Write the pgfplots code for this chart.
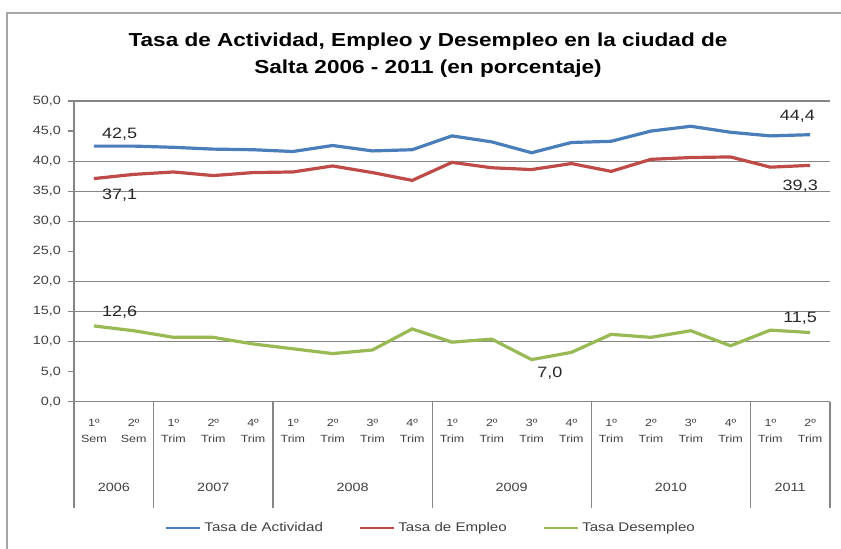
\documentclass[border=0pt]{standalone}
\usepackage{fontspec}
\setmainfont[FakeStretch=1.2]{Liberation Sans}
\usepackage{pgfplots}
\pgfplotsset{compat=1.18}
\definecolor{actblue}{HTML}{4A7EBB}
\definecolor{empred}{HTML}{BE4B48}
\definecolor{desgreen}{HTML}{98B954}
\definecolor{framegray}{HTML}{A6A6A6}
\definecolor{gridgray}{HTML}{868686}
\definecolor{labgray}{HTML}{404040}

\begin{document}
\begin{tikzpicture}
\useasboundingbox (0,0) rectangle (420.5pt,-274.5pt);
\draw[framegray, line width=1pt] (3.5pt,-280pt) -- (3.5pt,-6.4pt) -- (425pt,-6.4pt);
\node[font=\bfseries\fontsize{9.4}{11}\selectfont] at (214pt,-21pt) {Tasa de Actividad, Empleo y Desempleo en la ciudad de};
\node[font=\bfseries\fontsize{9.4}{11}\selectfont] at (214pt,-34.5pt) {Salta 2006 - 2011 (en porcentaje)};
\begin{axis}[
  at={(37pt,-200.85pt)}, anchor=south west,
  scale only axis, width=378pt, height=150.35pt,
  xmin=-0.5, xmax=18.5, ymin=0, ymax=50,
  clip=false,
  axis x line*=bottom, axis y line*=left,
  axis line style={gridgray, -, line width=0.6pt},
  ytick={0,5,...,50},
  tick align=outside, major tick length=3pt,
  ytick style={gridgray, line width=0.6pt},
  yticklabel style={font=\fontsize{6}{7}\selectfont, text=labgray},
  /pgf/number format/.cd, fixed, fixed zerofill, precision=1, use comma, assume math mode=true,
  /pgfplots/.cd,
  extra y ticks={10,15,20,30,35,40,50},
  extra y tick labels={},
  extra y tick style={grid=major, major tick length=0pt},
  grid style={gridgray, line width=0.6pt},
  xtick={0,...,18},
  xticklabels={{1º\\Sem},{2º\\Sem},{1º\\Trim},{2º\\Trim},{4º\\Trim},
    {1º\\Trim},{2º\\Trim},{3º\\Trim},{4º\\Trim},
    {1º\\Trim},{2º\\Trim},{3º\\Trim},{4º\\Trim},
    {1º\\Trim},{2º\\Trim},{3º\\Trim},{4º\\Trim},
    {1º\\Trim},{2º\\Trim}},
  xtick style={draw=none},
  xticklabel style={align=center, font=\fontsize{5.2}{8}\selectfont, text=labgray, yshift=-2pt},
  legend columns=3,
  legend style={at={(0.4735,-0.42)}, anchor=center, draw=none, fill=none,
    font=\fontsize{6.3}{7}\selectfont, text=labgray,
    /tikz/every even column/.append style={column sep=16pt}},
  legend image code/.code={\draw[line width=0.7pt] (0pt,0pt) -- (17pt,0pt);},
]
\addplot[actblue, line width=1.6pt] coordinates {
  (0,42.5)(1,42.5)(2,42.3)(3,42.0)(4,41.9)(5,41.6)(6,42.6)(7,41.7)(8,41.9)
  (9,44.2)(10,43.2)(11,41.4)(12,43.1)(13,43.3)(14,45.0)(15,45.8)(16,44.8)
  (17,44.2)(18,44.4)};
\addlegendentry{Tasa de Actividad}
\addplot[empred, line width=1.6pt] coordinates {
  (0,37.1)(1,37.8)(2,38.2)(3,37.6)(4,38.1)(5,38.2)(6,39.2)(7,38.1)(8,36.8)
  (9,39.8)(10,38.9)(11,38.6)(12,39.6)(13,38.3)(14,40.3)(15,40.6)(16,40.7)
  (17,39.0)(18,39.3)};
\addlegendentry{Tasa de Empleo}
\addplot[desgreen, line width=1.6pt] coordinates {
  (0,12.6)(1,11.8)(2,10.7)(3,10.7)(4,9.6)(5,8.8)(6,8.0)(7,8.6)(8,12.1)
  (9,9.9)(10,10.4)(11,7.0)(12,8.2)(13,11.2)(14,10.7)(15,11.8)(16,9.3)
  (17,11.9)(18,11.5)};
\addlegendentry{Tasa Desempleo}
% category table separators below the axis
\draw[gridgray, line width=0.6pt] (axis cs:-0.5,0) -- (axis cs:-0.5,-17.7);
\draw[gridgray, line width=0.6pt] (axis cs:1.5,0) -- (axis cs:1.5,-17.7);
\draw[gridgray, line width=0.6pt] (axis cs:4.5,0) -- (axis cs:4.5,-17.7);
\draw[gridgray, line width=0.6pt] (axis cs:8.5,0) -- (axis cs:8.5,-17.7);
\draw[gridgray, line width=0.6pt] (axis cs:12.5,0) -- (axis cs:12.5,-17.7);
\draw[gridgray, line width=0.6pt] (axis cs:16.5,0) -- (axis cs:16.5,-17.7);
\draw[gridgray, line width=0.6pt] (axis cs:18.5,0) -- (axis cs:18.5,-17.7);
\begin{scope}[every node/.style={font=\fontsize{7.5}{9}\selectfont, text=black!85}]
\node[anchor=west] at (axis cs:0.03,44.4) {42,5};
\node[anchor=west] at (axis cs:0.03,34.4) {37,1};
\node[anchor=west] at (axis cs:0.03,14.8) {12,6};
\node at (axis cs:11.46,4.8) {7,0};
\node[anchor=east] at (axis cs:18.3,47.4) {44,4};
\node[anchor=east] at (axis cs:18.37,35.8) {39,3};
\node[anchor=east] at (axis cs:18.35,13.8) {11,5};
\end{scope}
\begin{scope}[every node/.style={font=\fontsize{6}{7}\selectfont, text=labgray}]
\node at (axis cs:0.5,-14.2) {2006};
\node at (axis cs:3,-14.2) {2007};
\node at (axis cs:6.5,-14.2) {2008};
\node at (axis cs:10.5,-14.2) {2009};
\node at (axis cs:14.5,-14.2) {2010};
\node at (axis cs:17.5,-14.2) {2011};
\end{scope}
\end{axis}
\end{tikzpicture}
\end{document}
